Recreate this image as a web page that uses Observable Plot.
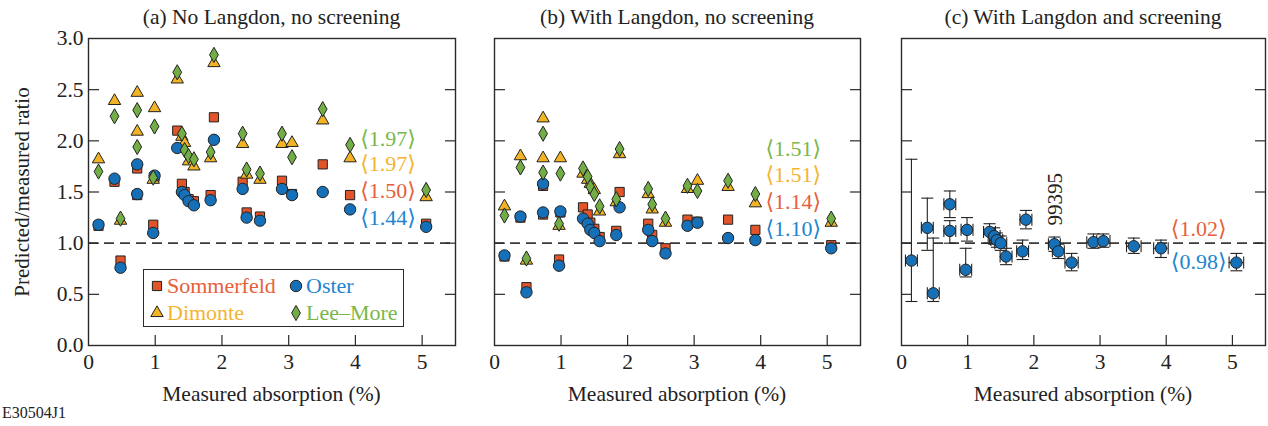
<!DOCTYPE html>
<html><head><meta charset="utf-8">
<script src="https://cdn.jsdelivr.net/npm/d3@7"></script>
<script src="https://cdn.jsdelivr.net/npm/@observablehq/plot@0.6"></script>
<style>
body{margin:0;background:#fff;}
#chart{position:relative;width:1268px;height:426px;font-family:"Liberation Serif","Times New Roman",serif;color:#222;overflow:hidden;background:#fff}
.abs{position:absolute;white-space:nowrap;line-height:1}
#chart svg{position:absolute;top:0;overflow:visible}
#chart svg text{font-family:"Liberation Serif","Times New Roman","DejaVu Serif",serif !important;}
</style></head><body><div id="chart"></div>
<script>
// ---- data ----
const measuredAbsorption = [0.15,0.39,0.48,0.73,0.73,0.99,0.97,1.33,1.40,1.44,1.50,1.58,1.88,1.83,2.31,2.37,2.57,2.90,3.05,3.51,3.92,5.06];
// (a) No Langdon, no screening
const aSommerfeld = [1.17,1.60,0.83,1.73,1.47,1.65,1.18,2.10,1.58,1.50,1.43,1.41,2.23,1.47,1.60,1.30,1.26,1.61,1.48,1.77,1.47,1.19];
const aDimonte    = [1.82,2.39,1.22,2.47,2.09,2.32,1.62,2.60,2.04,1.98,1.80,1.75,2.76,1.83,1.97,1.67,1.62,1.97,1.98,2.20,1.83,1.45];
const aOster      = [1.18,1.63,0.76,1.77,1.48,1.66,1.10,1.93,1.50,1.47,1.41,1.37,2.01,1.42,1.53,1.25,1.22,1.53,1.47,1.50,1.33,1.16];
const aLeeMore    = [1.70,2.24,1.24,2.30,1.94,2.14,1.64,2.67,2.07,1.91,1.85,1.82,2.84,1.89,2.07,1.72,1.68,2.07,1.84,2.31,1.96,1.52];
// (b) With Langdon, no screening
const bSommerfeld = [0.87,1.25,0.57,1.56,1.28,1.30,0.84,1.35,1.28,1.20,1.14,1.06,1.50,1.12,1.19,1.08,0.95,1.23,1.21,1.23,1.13,0.98];
const bDimonte    = [1.36,1.85,0.83,2.22,1.83,1.83,1.17,1.68,1.62,1.58,1.52,1.31,1.87,1.40,1.48,1.33,1.20,1.53,1.61,1.55,1.39,1.20];
const bOster      = [0.88,1.26,0.52,1.58,1.30,1.31,0.78,1.24,1.19,1.13,1.10,1.02,1.35,1.08,1.13,1.02,0.90,1.17,1.20,1.05,1.03,0.95];
const bLeeMore    = [1.27,1.74,0.85,2.07,1.69,1.68,1.19,1.73,1.65,1.55,1.48,1.36,1.92,1.43,1.53,1.38,1.24,1.56,1.51,1.61,1.48,1.24];
// (c) With Langdon and screening (Oster, with error bars)
const cOster  = [0.83,1.15,0.51,1.38,1.12,1.13,0.74,1.11,1.07,1.03,1.00,0.87,1.23,0.92,0.99,0.92,0.81,1.01,1.02,0.97,0.95,0.81];
const cLow    = [0.43,0.93,0.43,1.25,1.00,1.02,0.67,1.00,0.99,0.96,0.93,0.79,1.14,0.84,0.92,0.85,0.73,0.95,0.96,0.90,0.86,0.73];
const cHigh   = [1.82,1.44,1.05,1.51,1.22,1.25,0.95,1.19,1.15,1.10,1.07,0.95,1.32,1.03,1.06,0.99,0.90,1.09,1.09,1.05,1.03,0.90];
const cXErr   = [0.09,0.09,0.09,0.09,0.09,0.09,0.09,0.09,0.09,0.09,0.09,0.09,0.09,0.09,0.09,0.09,0.1,0.1,0.1,0.11,0.11,0.11];
// mean annotations
const meanA = ["⟨1.97⟩","⟨1.97⟩","⟨1.50⟩","⟨1.44⟩"];
const meanB = ["⟨1.51⟩","⟨1.51⟩","⟨1.14⟩","⟨1.10⟩"];
const meanModels = ["Lee–More","Dimonte","Sommerfeld","Oster"];
const meanC = ["⟨1.02⟩","⟨0.98⟩"];
const meanModelsC = ["Sommerfeld","Oster"];
const meanYA = [2.02,1.77,1.515,1.25];
const meanYB = [1.92,1.67,1.40,1.14];
const meanYC = [1.14,0.82];
const meanX = 4.49;
const shotLabel = "99395";
const titles = ["(a) No Langdon, no screening","(b) With Langdon, no screening","(c) With Langdon and screening"];
const xTicks = [0,1,2,3,4,5];
const yTicks = [0,0.5,1.0,1.5,2.0,2.5,3.0];
const models = ["Sommerfeld","Dimonte","Oster","Lee–More"];

// ---- style ----
const fillC = {"Sommerfeld":"#e2552b","Dimonte":"#f2b424","Oster":"#1570b8","Lee–More":"#72ae45"};
const textC = {"Sommerfeld":"#e8603a","Dimonte":"#f4b430","Oster":"#2184d0","Lee–More":"#79b74a"};
const symC = {"Sommerfeld":"square","Dimonte":"triangle","Oster":"circle","Lee–More":"diamond"};
const rC = {"Sommerfeld":5.2,"Dimonte":4.6,"Oster":5.7,"Lee–More":4.6};
const ink = "#2a2a2a";

const chart = document.getElementById("chart");

function rows(ys){ return measuredAbsorption.map((x,i)=>({x, y: ys[i]})); }

const hcap = {draw(ctx){ ctx.moveTo(-6,0); ctx.lineTo(6,0); }};
const vcap = {draw(ctx){ ctx.moveTo(0,-6); ctx.lineTo(0,6); }};

function axes(showLabels){
  const inner = yTicks.filter(d=>d>0 && d<3);
  return [
    Plot.axisY(inner, {anchor:"left", tickSize:-11, fill:"none", stroke:ink, strokeWidth:1.2, label:null}),
    Plot.axisY(inner, {anchor:"right", tickSize:-11, fill:"none", stroke:ink, strokeWidth:1.2, label:null}),
    showLabels ? Plot.axisY(yTicks, {anchor:"left", tickSize:0, tickPadding:5, tickFormat:d3.format(".1f"), fill:"#222", fontSize:21.5, label:null}) : null,
    Plot.axisX(xTicks.filter(d=>d>0), {anchor:"bottom", tickSize:-10, fill:"none", stroke:ink, strokeWidth:1.2, label:null}),
    Plot.axisX(xTicks, {anchor:"bottom", tickSize:0, tickPadding:8, fill:"#222", fontSize:21.5, label:null, tickFormat:d=>String(d)})
  ];
}

function panel(left, width, ml, mr, marks, showLabels){
  const svg = Plot.plot({
    width, height:426, marginLeft:ml, marginRight:mr, marginTop:38, marginBottom:81,
    x:{domain:[0,5.5], label:null}, y:{domain:[0,3], label:null},
    style:{fontFamily:"Liberation Serif, Times New Roman, serif", fontSize:"21px", color:"#222", background:"none", overflow:"visible"},
    marks:[
      Plot.ruleY([1], {stroke:"#3a3a3a", strokeWidth:1.6, strokeDasharray:"10,6"}),
      ...marks,
      ...axes(showLabels),
      Plot.frame({stroke:ink, strokeWidth:1.4})
    ]
  });
  svg.style.left = left + "px";
  chart.appendChild(svg);
}

function modelDots(series){
  const order = ["Sommerfeld","Dimonte","Oster","Lee–More"];
  return order.map(m => Plot.dot(rows(series[m]), {x:"x", y:"y", symbol:symC[m], r:rC[m], fill:fillC[m], stroke:"#222", strokeWidth:1}));
}
function meanText(labels, ys, mods){
  return Plot.text(labels.map((t,i)=>({t, y:ys[i], m:mods[i]})), {x:()=>meanX, y:"y", text:"t", fill:d=>textC[d.m], fontSize:22, textAnchor:"middle"});
}

panel(0, 460, 88, 5, [
  ...modelDots({"Sommerfeld":aSommerfeld,"Dimonte":aDimonte,"Oster":aOster,"Lee–More":aLeeMore}),
  meanText(meanA, meanYA, meanModels)
], true);

panel(460, 405, 34, 5, [
  ...modelDots({"Sommerfeld":bSommerfeld,"Dimonte":bDimonte,"Oster":bOster,"Lee–More":bLeeMore}),
  meanText(meanB, meanYB, meanModels)
], false);

const cData = measuredAbsorption.map((x,i)=>({x, y:cOster[i], lo:cLow[i], hi:cHigh[i], xe:cXErr[i]}));
panel(865, 403, 36, 3, [
  Plot.ruleX(cData, {x:"x", y1:"lo", y2:"hi", stroke:"#222", strokeWidth:1.1}),
  Plot.ruleY(cData, {y:"y", x1:d=>d.x-d.xe, x2:d=>d.x+d.xe, stroke:"#222", strokeWidth:1.1}),
  Plot.dot(cData, {x:"x", y:"lo", symbol:hcap, stroke:"#222", fill:"none", strokeWidth:1.1}),
  Plot.dot(cData, {x:"x", y:"hi", symbol:hcap, stroke:"#222", fill:"none", strokeWidth:1.1}),
  Plot.dot(cData, {x:d=>d.x-d.xe, y:"y", symbol:vcap, stroke:"#222", fill:"none", strokeWidth:1.1}),
  Plot.dot(cData, {x:d=>d.x+d.xe, y:"y", symbol:vcap, stroke:"#222", fill:"none", strokeWidth:1.1}),
  Plot.dot(cData, {x:"x", y:"y", symbol:"circle", r:5.7, fill:fillC["Oster"], stroke:"#222", strokeWidth:1}),
  Plot.text([shotLabel], {x:()=>measuredAbsorption[15]-0.04, y:()=>1.43, text:d=>d, rotate:-90, fontSize:21, fill:"#222"}),
  meanText(meanC, meanYC, meanModelsC)
], false);

// ---- HTML text: titles, axis labels, legend ----
function addText(txt, x, y, opts={}){
  const d = document.createElement("div");
  d.className = "abs";
  d.textContent = txt;
  d.style.left = x + "px"; d.style.top = y + "px";
  d.style.fontSize = (opts.size || 21) + "px";
  d.style.color = opts.color || "#222";
  d.style.transform = opts.transform || "translate(-50%,-50%)";
  chart.appendChild(d);
  return d;
}
const centers = [271.5, 677, 1083];
titles.forEach((t,i)=>addText(t, centers[i], 18, {size:21.5}));
centers.forEach(c=>addText("Measured absorption (%)", c, 395, {size:21.5}));
addText("Predicted/measured ratio", 22, 192, {size:21, transform:"translate(-50%,-50%) rotate(-90deg)"});
addText("E30504J1", 2, 405, {size:16, transform:"none"});

// legend
const lg = document.createElement("div");
lg.className = "abs";
lg.style.left = "143px"; lg.style.top = "269px"; lg.style.width = "259px"; lg.style.height = "56px";
lg.style.border = "1.4px solid " + ink; lg.style.background = "#fff";
chart.appendChild(lg);
const legendPos = {"Sommerfeld":[157,286],"Dimonte":[157,313],"Oster":[296,286],"Lee–More":[296,313]};
const symMap = {"square":d3.symbolSquare,"triangle":d3.symbolTriangle,"circle":d3.symbolCircle,"diamond":d3.symbolDiamond};
models.forEach(m=>{
  const [cx, cy] = legendPos[m];
  const s = d3.create("svg").attr("width",20).attr("height",20)
    .style("left",(cx-10)+"px").style("top",(cy-10)+"px").style("position","absolute");
  s.append("path").attr("transform","translate(10,10)")
    .attr("d", d3.symbol(symMap[symC[m]], Math.PI*rC[m]*rC[m])())
    .attr("fill", fillC[m]).attr("stroke","#222").attr("stroke-width",1);
  chart.appendChild(s.node());
  addText(m, cx+10, cy, {color:textC[m], size:22, transform:"translate(0,-50%)"});
});
</script></body></html>
